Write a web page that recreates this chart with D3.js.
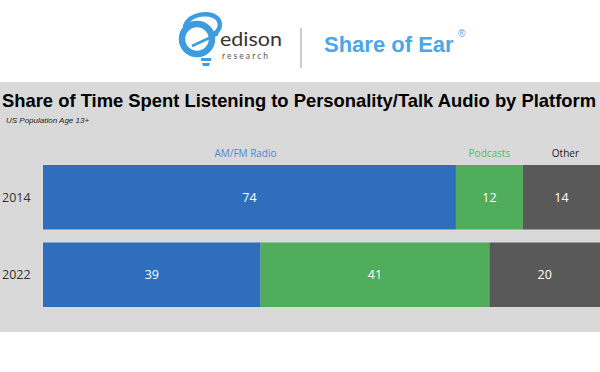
<!DOCTYPE html>
<html>
<head>
<meta charset="utf-8">
<script src="https://cdn.jsdelivr.net/npm/d3@7"></script>
<style>
  body { margin: 0; background: #fff; }
  svg { display: block; }
</style>
</head>
<body>
<svg></svg>
<script>
var width = 600;
var height = 372;

// data
var years = ["2014", "2022"];
var platforms = ["AM/FM Radio", "Podcasts", "Other"];
var radio = [74, 39];
var podcasts = [12, 41];
var other = [14, 20];

var colors = ["#2e6ebd", "#4fad5b", "#595959"];
var labelColors = ["#4f88cf", "#5cb568", "#222"];
var labelNudge = [-4, 0, 4];

var rows = years.map((y, i) => ({year: y, "AM/FM Radio": radio[i], "Podcasts": podcasts[i], "Other": other[i]}));
var series = d3.stack().keys(platforms)(rows);

var svg = d3.select("svg")
    .attr("width", width)
    .attr("height", height);

// ---- header / logo ----
var head = svg.append("g");
// blue bulb-ish swirl
head.append("circle")
    .attr("cx", 197).attr("cy", 39).attr("r", 15)
    .attr("fill", "none").attr("stroke", "#3d9be0").attr("stroke-width", 6.5);
head.append("path")
    .attr("d", "M185,26 C190,13 210,11 218,19 C222,25 219,31 214,34")
    .attr("fill", "none").attr("stroke", "#3d9be0").attr("stroke-width", 4.5)
    .attr("stroke-linecap", "round");
head.append("path")
    .attr("d", "M192,46 L218,34")
    .attr("fill", "none").attr("stroke", "#3d9be0").attr("stroke-width", 2.5);
head.append("path")
    .attr("d", "M201,58 L211,58 L211,61 L201,61 Z M202,63 L210,63 L209,66 L203,66 Z")
    .attr("fill", "#3d9be0");
head.append("text")
    .attr("x", 220).attr("y", 46)
    .attr("font-family", "Lato, 'DejaVu Sans', sans-serif")
    .attr("font-size", 19)
    .attr("fill", "#333")
    .attr("textLength", 62)
    .attr("lengthAdjust", "spacingAndGlyphs")
    .text("edison");
head.append("text")
    .attr("x", 222).attr("y", 59)
    .attr("font-family", "Lato, sans-serif")
    .attr("font-size", 8.5)
    .attr("fill", "#555")
    .attr("textLength", 46)
    .text("research");
head.append("line")
    .attr("x1", 301).attr("x2", 301).attr("y1", 28).attr("y2", 68)
    .attr("stroke", "#999").attr("stroke-width", 1);
head.append("text")
    .attr("x", 324).attr("y", 52)
    .attr("font-family", "'Liberation Sans', Arial, sans-serif")
    .attr("font-weight", "bold")
    .attr("font-size", 22)
    .attr("fill", "#4ba6e6")
    .text("Share of Ear");
head.append("text")
    .attr("x", 458).attr("y", 37)
    .attr("font-family", "'Liberation Sans', Arial, sans-serif")
    .attr("font-size", 10)
    .attr("fill", "#4ba6e6")
    .text("®");

// ---- gray panel ----
svg.append("rect")
    .attr("x", 0).attr("y", 82)
    .attr("width", width).attr("height", 250)
    .attr("fill", "#d9d9d9");

svg.append("text")
    .attr("x", 2).attr("y", 107)
    .attr("font-family", "'Liberation Sans', Arial, sans-serif")
    .attr("font-weight", "bold")
    .attr("font-size", 18.5)
    .attr("fill", "#000")
    .attr("textLength", 594)
    .attr("lengthAdjust", "spacingAndGlyphs")
    .text("Share of Time Spent Listening to Personality/Talk Audio by Platform");

svg.append("text")
    .attr("x", 6).attr("y", 123)
    .attr("font-family", "'Liberation Sans', Arial, sans-serif")
    .attr("font-style", "italic")
    .attr("font-size", 8)
    .attr("fill", "#222")
    .text("US Population Age 13+");

// ---- scales ----
var xScale = d3.scaleLinear()
    .domain([0, 100])
    .range([43, 601]);

var yScale = d3.scaleBand()
    .domain(years)
    .range([165, 307])
    .paddingInner(0.168);

// bars
var layers = svg.selectAll(".layer")
    .data(series)
    .enter()
    .append("g")
        .classed("layer", true)
        .attr("fill", (d, i) => colors[i]);

layers.selectAll("rect")
    .data(d => d)
    .enter()
    .append("rect")
    .attr("x", d => xScale(d[0]))
    .attr("y", d => yScale(d.data.year))
    .attr("width", d => xScale(d[1]) - xScale(d[0]))
    .attr("height", yScale.bandwidth());

// value labels inside bars
layers.selectAll("text")
    .data(d => d.map(v => ({v: v, key: d.key})))
    .enter()
    .append("text")
    .attr("x", d => (xScale(d.v[0]) + Math.min(xScale(d.v[1]), width)) / 2)
    .attr("y", d => yScale(d.v.data.year) + yScale.bandwidth() / 2)
    .attr("dy", "0.35em")
    .attr("text-anchor", "middle")
    .attr("font-family", "'Open Sans', 'Noto Sans', sans-serif")
    .attr("font-size", 12.5)
    .attr("fill", "#fff")
    .text(d => d.v.data[d.key]);

// category labels above the first bar
svg.selectAll(".cat")
    .data(series)
    .enter()
    .append("text")
    .classed("cat", true)
    .attr("x", (d, i) => (xScale(d[0][0]) + Math.min(xScale(d[0][1]), width)) / 2 + labelNudge[i])
    .attr("y", 157)
    .attr("text-anchor", "middle")
    .attr("font-family", "'Open Sans', 'Noto Sans', sans-serif")
    .attr("font-size", 10)
    .attr("fill", (d, i) => labelColors[i])
    .text(d => d.key);

// year labels
svg.selectAll(".year")
    .data(years)
    .enter()
    .append("text")
    .classed("year", true)
    .attr("x", 2)
    .attr("y", d => yScale(d) + yScale.bandwidth() / 2)
    .attr("dy", "0.35em")
    .attr("font-family", "'Open Sans', 'Noto Sans', sans-serif")
    .attr("font-size", 12.5)
    .attr("fill", "#333")
    .text(d => d);
</script>
</body>
</html>
